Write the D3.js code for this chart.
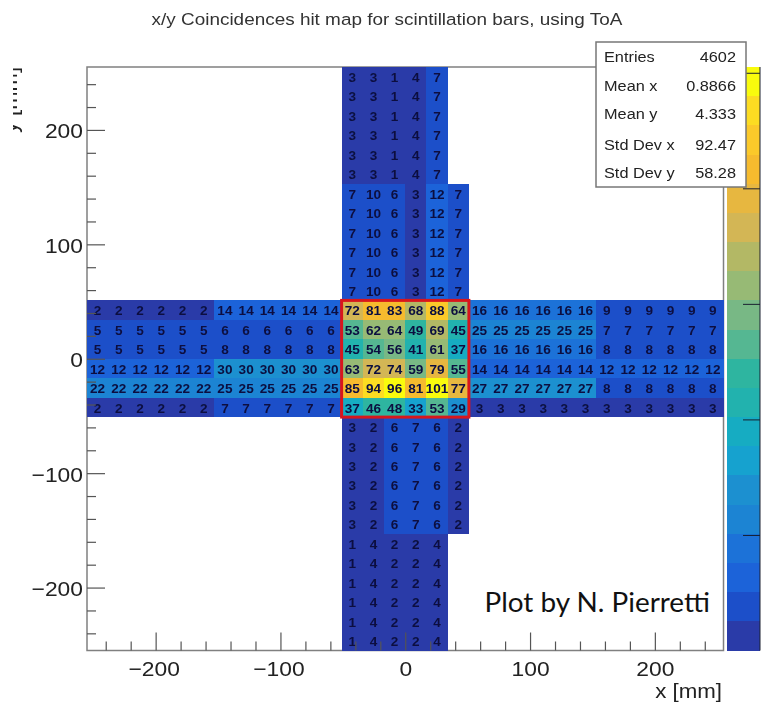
<!DOCTYPE html>
<html>
<head>
<meta charset="utf-8">
<script src="https://cdnjs.cloudflare.com/ajax/libs/d3/7.8.5/d3.min.js"></script>
<style>
html,body{margin:0;padding:0;background:#fff;}
svg{display:block;font-family:"Liberation Sans",Arial,sans-serif;}
</style>
</head>
<body>
<svg id="chart" width="769" height="707"></svg>
<script>
// ---- data ----
const chartTitle = "x/y Coincidences hit map for scintillation bars, using ToA";
const xTitle = "x [mm]";
const yTitle = "y [mm]";
const creditText = "Plot by N. Pierretti";
const statLabels = ["Entries", "Mean x", "Mean y", "Std Dev x", "Std Dev y"];
const statValues = ["4602", "0.8866", "4.333", "92.47", "58.28"];

const binWidth = 17;              // mm
const axisRange = [-255, 255];
const majorTicks = [-200, -100, 0, 100, 200];
const minorTicks = [-240,-220,-180,-160,-140,-120,-80,-60,-40,-20,20,40,60,80,120,140,160,180,220,240];
const paletteTicks = [20, 40, 60, 80, 100];
const zMax = 101;

// Blocks of six identical bars
const topOuter = [3, 3, 1, 4, 7];
const topInner = [7, 10, 6, 3, 12, 7];
const bottomInner = [3, 2, 6, 7, 6, 2];
const bottomOuter = [1, 4, 2, 2, 4];

// One entry per row of the horizontal arm, top to bottom
const leftOuter  = [2, 5, 5, 12, 22, 2];
const leftInner  = [14, 6, 8, 30, 25, 7];
const rightInner = [16, 25, 16, 14, 27, 3];
const rightOuter = [9, 7, 8, 12, 8, 3];
const core = [
  [72, 81, 83, 68, 88, 64],
  [53, 62, 64, 49, 69, 45],
  [45, 54, 56, 41, 61, 37],
  [63, 72, 74, 59, 79, 55],
  [85, 94, 96, 81, 101, 77],
  [37, 46, 48, 33, 53, 29]
];

// 20 contour colours, low to high
const paletteColors = [
  "#2b3ba8", "#1f50c9", "#1a63d9", "#1a72d8", "#1a84d3", "#1a90d0", "#15a2cf", "#17acc2",
  "#22b2ae", "#2fb5a0", "#55b792", "#78b885", "#97ba75", "#b3b865", "#d3b655", "#e7b73f",
  "#f6bb2f", "#fbc929", "#fcdc20", "#f9fb0f"
];

// ---- cells ----
const cells = [];
const sixRows = [0, 1, 2, 3, 4, 5];
function pushBlock(rowStart, colStart, rowValues) {
  rowValues.forEach((vals, r) => vals.forEach((v, c) => cells.push({row: rowStart + r, col: colStart + c, v})));
}
pushBlock(0, 12, sixRows.map(() => topOuter));
pushBlock(6, 12, sixRows.map(() => topInner));
pushBlock(12, 0, leftOuter.map(v => sixRows.map(() => v)));
pushBlock(12, 6, leftInner.map(v => sixRows.map(() => v)));
pushBlock(12, 12, core);
pushBlock(12, 18, rightInner.map(v => sixRows.map(() => v)));
pushBlock(12, 24, rightOuter.map(v => sixRows.map(() => v)));
pushBlock(18, 12, sixRows.map(() => bottomInner));
pushBlock(24, 12, sixRows.map(() => bottomOuter));

// ---- layout ----
const plot = {left: 87, right: 723.5, top: 67, bottom: 650.5};
const pal = {left: 727, right: 760};
const textStretch = 1.088;        // the reference was widened horizontally
const x = d3.scaleLinear().domain(axisRange).range([plot.left, plot.right]);
const y = d3.scaleLinear().domain(axisRange).range([plot.bottom, plot.top]);
const z = d3.scaleLinear().domain([0, zMax]).range([plot.bottom, plot.top]);
const color = d3.scaleQuantize().domain([-0.05, zMax - 0.05]).range(paletteColors);
const wide = (px, py) => `translate(${px},${py}) scale(${textStretch},1)`;

const svg = d3.select("#chart");
const defs = svg.append("defs");
defs.append("clipPath").attr("id", "ytitle-clip").append("rect")
  .attr("x", 13).attr("y", 0).attr("width", 40).attr("height", 200);
defs.append("filter").attr("id", "soft")
  .attr("filterUnits", "userSpaceOnUse").attr("x", 0).attr("y", 0).attr("width", 769).attr("height", 707)
  .append("feGaussianBlur").attr("stdDeviation", 0.45);

const g = svg.append("g").attr("filter", "url(#soft)");
g.append("rect").attr("width", 769).attr("height", 707).attr("fill", "#fff");

// title
g.append("text").attr("transform", wide(387, 25)).attr("text-anchor", "middle")
  .attr("font-size", 17.4).attr("fill", "#333").text(chartTitle);

// frame (the cells sit on top of it)
g.append("rect").attr("x", plot.left).attr("y", plot.top)
  .attr("width", plot.right - plot.left).attr("height", plot.bottom - plot.top)
  .attr("fill", "none").attr("stroke", "#808080").attr("stroke-width", 1.5);

// cells
const xEdge = c => x(axisRange[0] + c * binWidth);
const yEdge = r => y(axisRange[1] - r * binWidth);
g.append("g").selectAll("rect").data(cells).join("rect")
  .attr("x", d => xEdge(d.col)).attr("y", d => yEdge(d.row))
  .attr("width", d => xEdge(d.col + 1) - xEdge(d.col))
  .attr("height", d => yEdge(d.row + 1) - yEdge(d.row))
  .attr("shape-rendering", "crispEdges")
  .attr("fill", d => color(d.v));

g.append("g").selectAll("text").data(cells).join("text")
  .attr("transform", d => wide((xEdge(d.col) + xEdge(d.col + 1)) / 2, (yEdge(d.row) + yEdge(d.row + 1)) / 2 + 5.3))
  .attr("text-anchor", "middle").attr("font-size", 12.5).attr("font-weight", "bold")
  .attr("fill", "#0b1040").text(d => d.v);

// red box round the core
g.append("rect")
  .attr("x", xEdge(12)).attr("y", yEdge(12))
  .attr("width", xEdge(18) - xEdge(12)).attr("height", yEdge(18) - yEdge(12))
  .attr("fill", "none").attr("stroke", "#d8181f").attr("stroke-width", 3);

// axes
function styleAxis(sel) {
  sel.select(".domain").remove();
  sel.selectAll(".tick line").attr("stroke", "#555").attr("stroke-width", 1.2);
  sel.selectAll(".tick text").attr("font-size", 21).attr("fill", "#222");
  sel.attr("font-family", null);
}
const xMinor = g.append("g").attr("transform", `translate(0,${plot.bottom})`)
  .call(d3.axisBottom(x).tickValues(minorTicks).tickSize(-9).tickFormat(""));
styleAxis(xMinor);
const xMajor = g.append("g").attr("transform", `translate(0,${plot.bottom})`)
  .call(d3.axisBottom(x).tickValues(majorTicks).tickSize(-18).tickFormat(d3.format("d")));
styleAxis(xMajor);
xMajor.selectAll(".tick text")
  .attr("x", null).attr("y", null).attr("dy", null)
  .attr("transform", d => wide(d < 0 ? -2 : 0, 25));

const yMinor = g.append("g").attr("transform", `translate(${plot.left},0)`)
  .call(d3.axisLeft(y).tickValues(minorTicks).tickSize(-9).tickFormat(""));
styleAxis(yMinor);
const yMajor = g.append("g").attr("transform", `translate(${plot.left},0)`)
  .call(d3.axisLeft(y).tickValues(majorTicks).tickSize(-18).tickFormat(d3.format("d")));
styleAxis(yMajor);
yMajor.selectAll(".tick text")
  .attr("x", null).attr("dy", null)
  .attr("transform", wide(-4, 8));

// axis titles
g.append("text").attr("transform", wide(722, 698)).attr("text-anchor", "end")
  .attr("font-size", 20.5).attr("fill", "#222").text(xTitle);
g.append("g").attr("clip-path", "url(#ytitle-clip)")
  .append("text").attr("transform", "translate(17,67) rotate(-90)").attr("text-anchor", "end")
  .attr("font-size", 22).attr("fill", "#222").text(yTitle);

// palette
g.append("g").selectAll("rect").data(paletteColors).join("rect")
  .attr("x", pal.left).attr("width", pal.right - pal.left)
  .attr("y", (d, i) => z((i + 1) * zMax / paletteColors.length))
  .attr("height", (d, i) => z(i * zMax / paletteColors.length) - z((i + 1) * zMax / paletteColors.length))
  .attr("shape-rendering", "crispEdges")
  .attr("fill", d => d);
const zAxis = g.append("g").attr("transform", `translate(${pal.right},0)`)
  .call(d3.axisRight(z).tickValues(paletteTicks).tickSize(-17).tickFormat(""));
zAxis.select(".domain").remove();
zAxis.selectAll(".tick line").attr("stroke", "#1a2030").attr("stroke-width", 1);
g.append("line").attr("x1", pal.right).attr("x2", pal.right)
  .attr("y1", plot.top).attr("y2", plot.bottom).attr("stroke", "#1a2030").attr("stroke-width", 1);

// stats box
const box = {x: 596, y: 42, w: 150, h: 145};
g.append("rect").attr("x", box.x).attr("y", box.y).attr("width", box.w).attr("height", box.h)
  .attr("fill", "#fff").attr("stroke", "#777").attr("stroke-width", 1.5);
const statY = [62, 91, 119, 150, 178];
g.append("g").selectAll("text").data(statLabels).join("text")
  .attr("transform", (d, i) => wide(604, statY[i])).attr("font-size", 15).attr("fill", "#222").text(d => d);
g.append("g").selectAll("text").data(statValues).join("text")
  .attr("transform", (d, i) => wide(736, statY[i])).attr("text-anchor", "end")
  .attr("font-size", 15).attr("fill", "#222").text(d => d);

// credit, overlaid sharp on the plot
svg.append("text").attr("x", 484.5).attr("y", 612)
  .attr("font-family", "Lato,'Open Sans',sans-serif").attr("font-size", 27.9).attr("fill", "#111").text(creditText);
</script>
</body>
</html>
